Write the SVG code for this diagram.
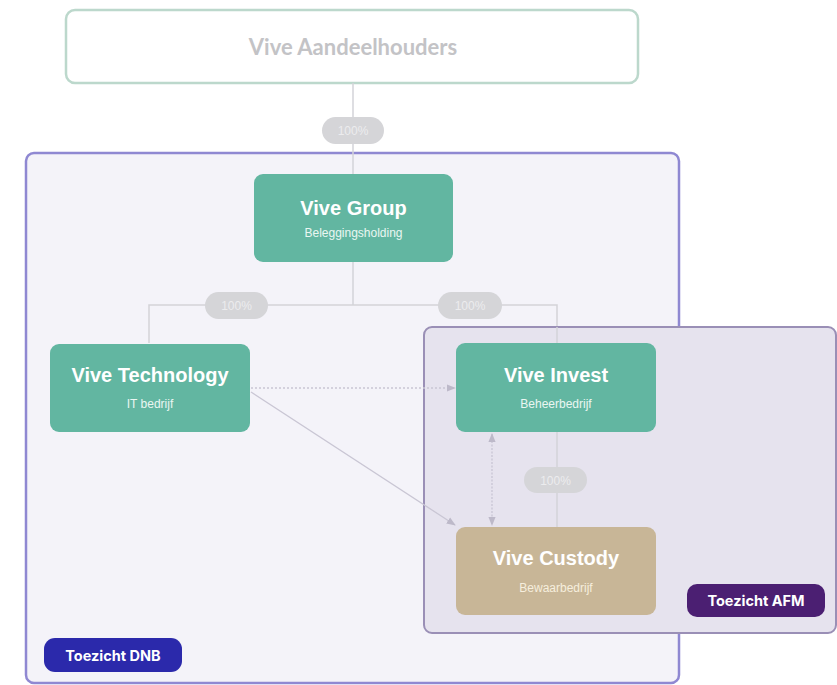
<svg xmlns="http://www.w3.org/2000/svg" width="837" height="685" viewBox="0 0 837 685">
  <defs>
    <style>
      .node { fill: #62b6a1; }
      .custody { fill: #c8b697; }
      .title { font-family: "Liberation Sans", Arial, sans-serif; font-weight: bold; font-size: 20px; fill: #ffffff; text-anchor: middle; }
      .sub { font-family: "Liberation Sans", Arial, sans-serif; font-size: 12px; fill: #eaf6f2; text-anchor: middle; }
      .pill { fill: #d5d5d8; }
      .pilltxt { font-family: "Liberation Sans", Arial, sans-serif; font-size: 12px; fill: #ececee; text-anchor: middle; }
      .own { stroke: #d3d3d8; stroke-width: 1.5; fill: none; }
      .rel { stroke: #c9c6d4; stroke-width: 1.3; fill: none; }
      .badge { font-family: Inter, "Liberation Sans", sans-serif; font-weight: bold; font-size: 14.5px; fill: #ffffff; text-anchor: middle; }
    </style>
    <marker id="arr" viewBox="0 0 10 10" refX="9" refY="5" markerWidth="7" markerHeight="7" orient="auto-start-reverse">
      <path d="M0,1 L10,5 L0,9 z" fill="#bdb9c9"/>
    </marker>
  </defs>

  <g id="shareholders">
    <rect x="66" y="10" width="572" height="73" rx="9" fill="#ffffff" stroke="#bcd8cc" stroke-width="2.5"/>
    <text x="353" y="55" font-family="Lato, 'Liberation Sans', sans-serif" font-weight="bold" font-size="22" fill="#c3c3c6" text-anchor="middle">Vive Aandeelhouders</text>
  </g>

  <g id="dnb-zone">
    <rect x="26" y="153" width="653" height="530" rx="8" fill="#f4f3f9" stroke="#8f88d2" stroke-width="2.5"/>
  </g>

  <g id="connectors-own">
    <line class="own" x1="353" y1="83" x2="353" y2="305"/>
    <polyline class="own" points="149,343 149,305 557,305 557,527"/>
  </g>

  <g id="afm-zone">
    <rect x="424" y="327" width="412" height="306" rx="8" fill="#e6e3ee" stroke="#9a8fb6" stroke-width="2"/>
  </g>

  <g id="connectors">
    <line class="own" x1="557" y1="327" x2="557" y2="527"/>
    <line class="rel" x1="251" y1="388" x2="455" y2="388" stroke-dasharray="2,2" marker-end="url(#arr)"/>
    <line class="rel" x1="251" y1="392" x2="455" y2="525" marker-end="url(#arr)"/>
    <line class="rel" x1="492" y1="434" x2="492" y2="525" stroke-dasharray="2,1.5" marker-start="url(#arr)" marker-end="url(#arr)"/>
  </g>

  <g id="pills">
    <g id="pill-top"><rect class="pill" x="322" y="117" width="62" height="27" rx="13.5"/><text class="pilltxt" x="353" y="135">100%</text></g>
    <g id="pill-tech"><rect class="pill" x="205" y="292" width="63" height="27" rx="13.5"/><text class="pilltxt" x="236.5" y="310">100%</text></g>
    <g id="pill-invest"><rect class="pill" x="438" y="292" width="64" height="27" rx="13.5"/><text class="pilltxt" x="470" y="310">100%</text></g>
    <g id="pill-custody"><rect class="pill" x="524" y="467" width="63" height="26" rx="13"/><text class="pilltxt" x="555.5" y="484.5">100%</text></g>
  </g>

  <g id="vive-group">
    <rect class="node" x="254" y="174" width="199" height="88" rx="9"/>
    <text class="title" x="353.5" y="215">Vive Group</text>
    <text class="sub" x="353.5" y="237">Beleggingsholding</text>
  </g>

  <g id="vive-technology">
    <rect class="node" x="50" y="344" width="200" height="88" rx="9"/>
    <text class="title" x="150" y="382">Vive Technology</text>
    <text class="sub" x="150" y="408">IT bedrijf</text>
  </g>

  <g id="vive-invest">
    <rect class="node" x="456" y="343" width="200" height="89" rx="9"/>
    <text class="title" x="556" y="382">Vive Invest</text>
    <text class="sub" x="556" y="408">Beheerbedrijf</text>
  </g>

  <g id="vive-custody">
    <rect class="custody" x="456" y="527" width="200" height="88" rx="9"/>
    <text class="title" x="556" y="565">Vive Custody</text>
    <text class="sub" x="556" y="592" style="fill:#f6eedd">Bewaarbedrijf</text>
  </g>

  <g id="badge-afm">
    <rect x="687" y="584" width="138" height="33" rx="10" fill="#4b1f72"/>
    <text class="badge" x="756" y="606">Toezicht AFM</text>
  </g>

  <g id="badge-dnb">
    <rect x="44" y="638" width="138" height="34" rx="11" fill="#2b29ab"/>
    <text class="badge" x="113" y="660.5">Toezicht DNB</text>
  </g>
</svg>
